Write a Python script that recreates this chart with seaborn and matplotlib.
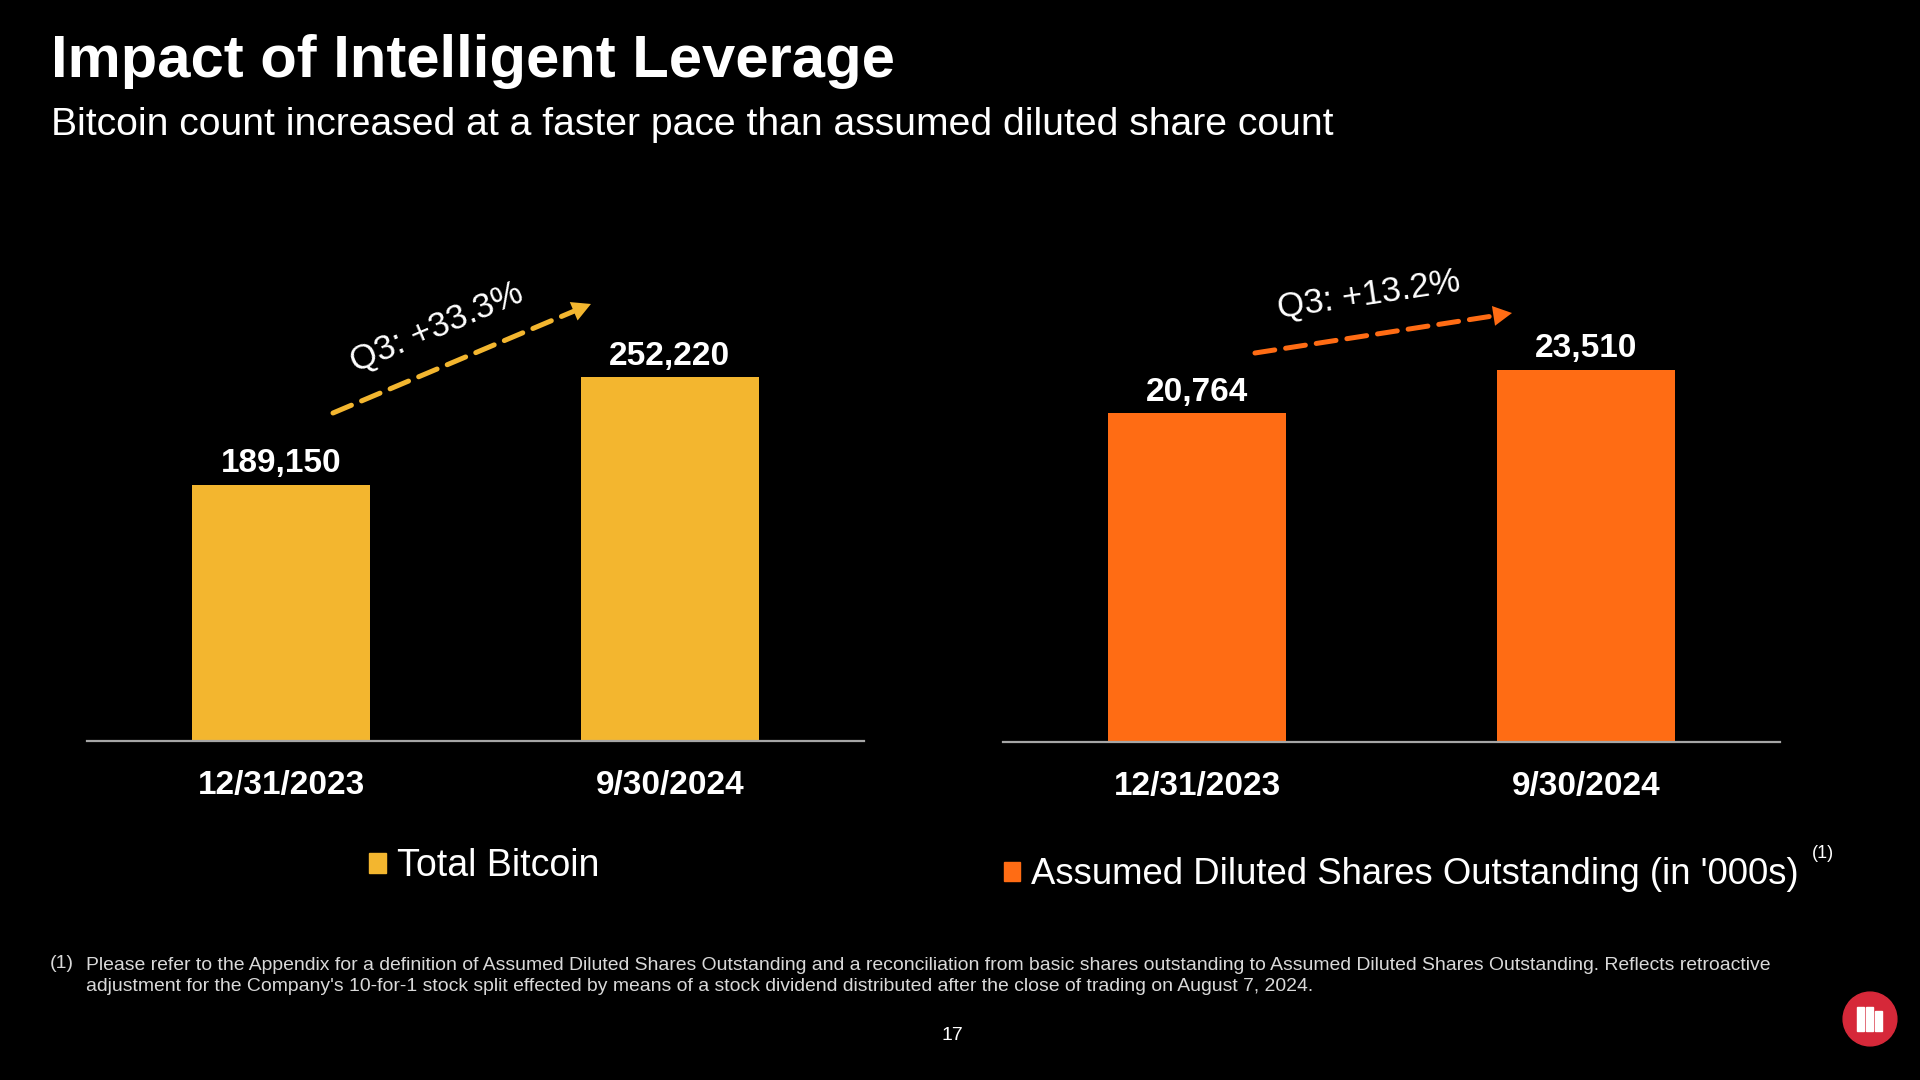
import matplotlib.pyplot as plt
import matplotlib.patches as mpatches
import seaborn as sns
import pandas as pd

# data
dates = ["12/31/2023", "9/30/2024"]
total_bitcoin = [189150, 252220]
diluted_shares = [20764, 23510]
legend_left = "Total Bitcoin"
legend_right = "Assumed Diluted Shares Outstanding (in '000s)"

title = "Impact of Intelligent Leverage"
subtitle = "Bitcoin count increased at a faster pace than assumed diluted share count"
footnote = ("Please refer to the Appendix for a definition of Assumed Diluted Shares Outstanding and a "
            "reconciliation from basic shares outstanding to Assumed Diluted Shares Outstanding. Reflects retroactive\n"
            "adjustment for the Company's 10-for-1 stock split effected by means of a stock dividend distributed "
            "after the close of trading on August 7, 2024.")

YELLOW = "#F3B62F"
ORANGE = "#FF6C14"
BG = "#000000"

sns.set_theme(style="white")
plt.rcParams['font.family'] = ['Liberation Sans', 'DejaVu Sans']
plt.rcParams['axes.facecolor'] = BG
plt.rcParams['figure.facecolor'] = BG

fig = plt.figure(figsize=(19.2, 10.8), dpi=100)
W, H = 1920, 1080


def px_axes(x0, x1, ytop, ybot):
    return fig.add_axes([x0 / W, 1 - ybot / H, (x1 - x0) / W, (ybot - ytop) / H])


ax1 = px_axes(87, 864, 200, 741)
ax2 = px_axes(1003, 1780, 200, 742)

df1 = pd.DataFrame({"date": dates, "value": total_bitcoin})
df2 = pd.DataFrame({"date": dates, "value": diluted_shares})

panels = [
    (ax1, df1, YELLOW, (39400, 355850)),
    (ax2, df2, ORANGE, (0, 34240)),
]

for ax, df, color, ylim in panels:
    sns.barplot(data=df, x="date", y="value", color=color, width=0.457,
                saturation=1, linewidth=0, ax=ax)
    ax.set_xlim(-0.5, 1.5)
    ax.set_ylim(*ylim)
    ax.set_xlabel("")
    ax.set_ylabel("")
    ax.set_yticks([])
    for side in ["top", "right", "left"]:
        ax.spines[side].set_visible(False)
    ax.spines["bottom"].set_color("#A6A6A6")
    ax.spines["bottom"].set_linewidth(1.6)
    ax.tick_params(axis="x", length=0, pad=21, colors="white")
    for lab in ax.get_xticklabels():
        lab.set_fontsize(24)
        lab.set_fontweight("bold")
        lab.set_color("white")
    ax.bar_label(ax.containers[0], labels=[f"{v:,}" for v in df["value"]],
                 padding=4, color="white", fontsize=24, fontweight="bold")

# growth arrows
def growth_arrow(ax, values, color, start, end, text_xy, rot):
    pct = (values[1] / values[0] - 1) * 100
    ax.annotate("", xy=end, xytext=start, xycoords="axes fraction",
                arrowprops=dict(arrowstyle="-", color=color, lw=3.6,
                                linestyle=(0, (4, 2.2)), shrinkA=0, shrinkB=9))
    ax.annotate("", xy=end, xytext=(end[0] - (end[0] - start[0]) * 0.08,
                                    end[1] - (end[1] - start[1]) * 0.08),
                xycoords="axes fraction",
                arrowprops=dict(arrowstyle="-|>,head_length=0.75,head_width=0.4",
                                color=color, lw=0, shrinkA=0, shrinkB=0,
                                mutation_scale=18))
    ax.text(*text_xy, f"Q3: +{pct:.1f}%", transform=ax.transAxes, rotation=rot,
            rotation_mode="anchor", ha="center", va="center", color="white",
            fontsize=25)


growth_arrow(ax1, total_bitcoin, YELLOW, (0.3166, 0.6063), (0.6486, 0.8078),
             (0.4505, 0.7652), 23)
growth_arrow(ax2, diluted_shares, ORANGE, (0.3243, 0.7177), (0.6551, 0.7915),
             (0.4710, 0.8247), 8.5)

# legends
h1 = mpatches.Patch(color=YELLOW, label=legend_left)
h2 = mpatches.Patch(color=ORANGE, label=legend_right)
common = dict(frameon=False, handlelength=0.45, handleheight=0.45,
              handletextpad=0.3, borderpad=0, borderaxespad=0, labelcolor="white")
fig.legend(handles=[h1], loc="center", bbox_to_anchor=(484 / W, 1 - 866 / H),
           fontsize=27, **common)
fig.legend(handles=[h2], loc="center left", bbox_to_anchor=(1004 / W, 1 - 875 / H),
           fontsize=26.3, **common)
fig.text(1812 / W, 1 - 853 / H, "(1)", color="white", fontsize=13, va="center")

# titles
fig.text(51 / W, 1 - 62 / H, title, color="white", fontsize=43, fontweight="bold", va="center")
fig.text(51 / W, 1 - 125 / H, subtitle, color="white", fontsize=28.2, va="center")

# footnote and page number
fig.text(50 / W, 1 - 964 / H, "(1)", color="#D9D9D9", fontsize=14, va="center")
fig.text(86 / W, 1 - 976 / H, footnote, color="#D9D9D9", fontsize=13.95, va="center",
         linespacing=1.3)
fig.text(952 / W, 1 - 1036 / H, "17", color="white", fontsize=14, ha="center", va="center")

# logo
logo = fig.add_axes([1842 / W, 1 - 1047 / H, 56 / W, 56 / H])
logo.set_xlim(0, 1)
logo.set_ylim(0, 1)
logo.set_aspect("equal")
logo.axis("off")
logo.add_patch(mpatches.Circle((0.5, 0.5), 0.48, color="#D62839"))
for bx, bh in [(0.27, 0.42), (0.43, 0.42), (0.59, 0.36)]:
    logo.add_patch(mpatches.Rectangle((bx, 0.29), 0.12, bh, color="white"))

fig.savefig("out.png", dpi=100, facecolor=BG)
